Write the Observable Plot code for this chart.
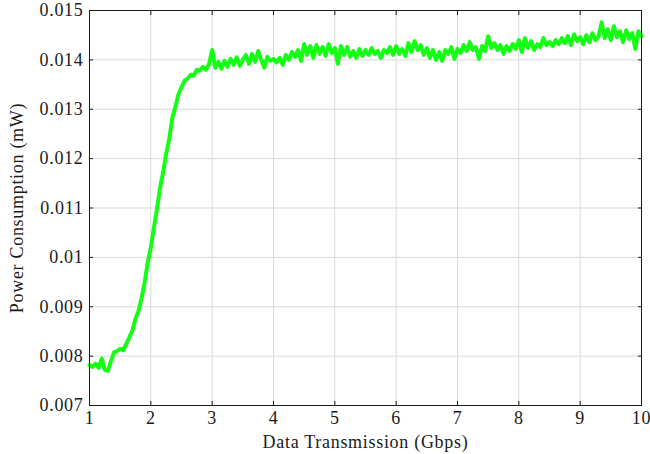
<!DOCTYPE html>
<html>
<head>
<meta charset="utf-8">
<script src="https://cdn.jsdelivr.net/npm/d3@7"></script>
<script src="https://cdn.jsdelivr.net/npm/@observablehq/plot@0.6"></script>
<style>
  html, body { margin: 0; padding: 0; background: #fff; }
</style>
</head>
<body>
<div id="chart"></div>
<script>
// x positions: 1.00 to 10.00 in steps of 0.05 Gbps
const xStart = 1, xStep = 0.05;
// Power consumption (mW)
const power = [
  0.00782, 0.00778, 0.00785, 0.00776, 0.00795, 0.00772, 0.00770, 0.00790, 0.00808, 0.00810,
  0.00815, 0.00812, 0.00825, 0.00838, 0.00852, 0.00876, 0.00892, 0.00918, 0.00950, 0.00990,
  0.01020, 0.01060, 0.01098, 0.01140, 0.01172, 0.01210, 0.01240, 0.01282, 0.01305, 0.01330,
  0.01345, 0.01358, 0.01362, 0.01370, 0.01368, 0.01380, 0.01378, 0.01386, 0.01380, 0.01392,
  0.01420, 0.01384, 0.01396, 0.01382, 0.01398, 0.01386, 0.01402, 0.01390, 0.01405, 0.01388,
  0.01400, 0.01410, 0.01392, 0.01412, 0.01396, 0.01418, 0.01400, 0.01384, 0.01406, 0.01398,
  0.01402, 0.01395, 0.01404, 0.01390, 0.01410, 0.01400, 0.01416, 0.01406, 0.01420, 0.01398,
  0.01432, 0.01410, 0.01428, 0.01404, 0.01430, 0.01412, 0.01426, 0.01408, 0.01432, 0.01414,
  0.01424, 0.01392, 0.01428, 0.01410, 0.01426, 0.01406, 0.01418, 0.01404, 0.01422, 0.01408,
  0.01420, 0.01410, 0.01424, 0.01412, 0.01418, 0.01404, 0.01420, 0.01414, 0.01426, 0.01410,
  0.01428, 0.01412, 0.01422, 0.01408, 0.01434, 0.01416, 0.01438, 0.01420, 0.01430, 0.01410,
  0.01424, 0.01404, 0.01420, 0.01400, 0.01416, 0.01398, 0.01420, 0.01412, 0.01426, 0.01402,
  0.01422, 0.01414, 0.01430, 0.01418, 0.01436, 0.01420, 0.01426, 0.01402, 0.01428, 0.01418,
  0.01448, 0.01424, 0.01434, 0.01420, 0.01430, 0.01412, 0.01428, 0.01418, 0.01432, 0.01422,
  0.01440, 0.01416, 0.01444, 0.01424, 0.01438, 0.01420, 0.01432, 0.01426, 0.01444, 0.01430,
  0.01436, 0.01428, 0.01440, 0.01432, 0.01444, 0.01434, 0.01448, 0.01430, 0.01452, 0.01438,
  0.01446, 0.01432, 0.01450, 0.01436, 0.01454, 0.01440, 0.01448, 0.01476, 0.01444, 0.01462,
  0.01440, 0.01468, 0.01446, 0.01458, 0.01436, 0.01460, 0.01442, 0.01454, 0.01422, 0.01458,
  0.01448
];
const xTicks = [1, 2, 3, 4, 5, 6, 7, 8, 9, 10];
const yTicks = [0.007, 0.008, 0.009, 0.010, 0.011, 0.012, 0.013, 0.014, 0.015];
const xLabel = "Data Transmission (Gbps)";
const yLabel = "Power Consumption (mW)";

const data = power.map((p, i) => ({x: +(xStart + i * xStep).toFixed(2), y: p}));
const fmtY = d => String(+d.toFixed(3));
const ink = "#1a1a1a";

const chart = Plot.plot({
  width: 650,
  height: 454,
  marginLeft: 89,
  marginRight: 9,
  marginTop: 10,
  marginBottom: 49,
  style: {fontFamily: "'Liberation Serif', 'Times New Roman', serif", fontSize: "18px", letterSpacing: "0.7px", color: ink, background: "#fff"},
  x: {domain: [1, 10], label: null},
  y: {domain: [0.007, 0.015], label: null},
  marks: [
    Plot.gridX(xTicks, {stroke: "#d9d9d9", strokeOpacity: 1}),
    Plot.gridY(yTicks, {stroke: "#d9d9d9", strokeOpacity: 1}),
    Plot.line(data, {x: "x", y: "y", stroke: "#14ff14", strokeWidth: 4, strokeLinejoin: "round"}),
    Plot.frame({stroke: ink, strokeWidth: 1}),
    Plot.axisX(xTicks, {anchor: "bottom", tickSize: -4, tickPadding: 10, tickFormat: d => String(d), label: null}),
    Plot.axisX(xTicks, {anchor: "top", tickSize: -4, tickFormat: () => "", label: null}),
    Plot.axisY(yTicks, {anchor: "left", tickSize: -4, tickPadding: 10, tickFormat: fmtY, label: null}),
    Plot.axisY(yTicks, {anchor: "right", tickSize: -4, tickFormat: () => "", label: null}),
    Plot.text([xLabel], {frameAnchor: "bottom", dy: 42, lineAnchor: "bottom", text: d => d, fill: ink}),
    Plot.text([yLabel], {frameAnchor: "left", dx: -79, rotate: -90, textAnchor: "middle", lineAnchor: "top", text: d => d, fill: ink})
  ]
});
document.getElementById("chart").appendChild(chart);
</script>
</body>
</html>
